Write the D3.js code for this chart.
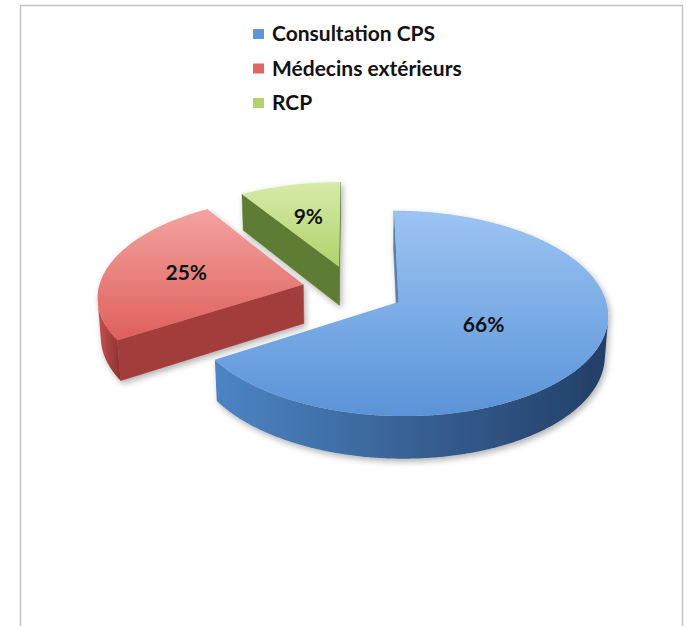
<!DOCTYPE html>
<html>
<head>
<meta charset="utf-8">
<script src="https://cdn.jsdelivr.net/npm/d3@7"></script>
<style>
  body { margin: 0; background: #fff; }
  text { font-family: Lato, "Open Sans", sans-serif; font-weight: bold; }
</style>
</head>
<body>
<div id="chart"></div>
<script>
// data
var categories = ["Consultation CPS", "Médecins extérieurs", "RCP"];
var values = [66, 25, 9];
var labels = ["66%", "25%", "9%"];

// look
var topColors  = [["#9cc4f3", "#5a93d8"], ["#f4a3a0", "#de5f5b"], ["#d6eba9", "#b0d26b"]];
var wallColors = [["#4d84c4", "#223f66"], ["#c8524f", "#8c302e"], ["#6b8b3b", "#4a6627"]];
var faceColors = ["#5a7fa8", "#a23c3a", "#5f7c34"];
var keyColors  = ["#5d95dc", "#e06664", "#b3d36c"];

var W = 686, H = 626;
var svg = d3.select("#chart").append("svg")
    .attr("width", W)
    .attr("height", H);

var defs = svg.append("defs");
defs.append("filter").attr("id", "shadow")
    .attr("x", "-20%").attr("y", "-20%").attr("width", "140%").attr("height", "140%")
    .append("feDropShadow")
    .attr("dx", 2).attr("dy", 3).attr("stdDeviation", 3)
    .attr("flood-color", "#000").attr("flood-opacity", 0.3);

// chart frame
svg.append("rect")
    .attr("x", 20.5).attr("y", 5.5)
    .attr("width", 662).attr("height", H + 20)
    .attr("fill", "#fff")
    .attr("stroke", "#c4c4c4")
    .attr("stroke-width", 1.5);

// simple perspective camera
var phi = 29 * Math.PI / 180, D = 8.1, Fx = 1640, Fy = 1700;
var cx = 353, cy = 329, thick = 0.21, explode = 0.25;
var camY = D * Math.sin(phi), camZ = -D * Math.cos(phi);

function proj(p) {
    var d = D + p[2] * Math.cos(phi) - p[1] * Math.sin(phi);
    return [cx + Fx * p[0] / d, cy - Fy * (p[1] * Math.cos(phi) + p[2] * Math.sin(phi)) / d];
}

var pie = d3.pie().sort(null).value(function(d) { return d; });
var arcs = pie(values).map(function(a, i) {
    var m = (a.startAngle + a.endAngle) / 2;
    a.i = i;
    a.ox = explode * Math.sin(m);
    a.oz = explode * Math.cos(m);
    a.mid = m;
    return a;
});

function pt(a, ang, r, y) {
    return [a.ox + r * Math.sin(ang), y, a.oz + r * Math.cos(ang)];
}

var line = d3.line().curve(d3.curveLinearClosed);
var step = Math.PI / 360;

function angles(s, e) {
    var out = [];
    for (var t = s; t < e; t += step) out.push(t);
    out.push(e);
    return out;
}

// back to front
var order = arcs.slice().sort(function(a, b) { return b.oz - a.oz; });

order.forEach(function(a) {
    var g = svg.append("g").attr("filter", "url(#shadow)");
    var i = a.i;
    var s = a.startAngle, e = a.endAngle;

    // radial faces
    [[s, s - Math.PI / 2], [e, e + Math.PI / 2]].forEach(function(f) {
        var nx = Math.sin(f[1]), nz = Math.cos(f[1]);
        var dot = nx * (-a.ox) + nz * (camZ - a.oz);
        if (dot <= 0) return;
        var poly = [pt(a, f[0], 0, thick), pt(a, f[0], 1, thick),
                    pt(a, f[0], 1, 0), pt(a, f[0], 0, 0)].map(proj);
        g.append("path").attr("d", line(poly))
            .attr("fill", faceColors[i])
            .attr("stroke", faceColors[i]).attr("stroke-width", 0.5);
    });

    // outer wall, visible part only
    var vis = angles(s, e).filter(function(t) {
        var p = pt(a, t, 1, 0);
        return Math.sin(t) * (-p[0]) + Math.cos(t) * (camZ - p[2]) > 0;
    });
    if (vis.length > 1) {
        var topArc = vis.map(function(t) { return proj(pt(a, t, 1, thick)); });
        var botArc = vis.map(function(t) { return proj(pt(a, t, 1, 0)); }).reverse();
        var all = topArc.concat(botArc);
        var xs = d3.extent(all, function(p) { return p[0]; });
        var gid = "wall" + i;
        var lg = defs.append("linearGradient").attr("id", gid)
            .attr("gradientUnits", "userSpaceOnUse")
            .attr("x1", xs[0]).attr("x2", xs[1]).attr("y1", 0).attr("y2", 0);
        lg.append("stop").attr("offset", 0).attr("stop-color", wallColors[i][0]);
        lg.append("stop").attr("offset", 1).attr("stop-color", wallColors[i][1]);
        g.append("path").attr("d", line(all))
            .attr("fill", "url(#" + gid + ")");
    }

    // top face
    var face = [proj(pt(a, 0, 0, thick))].concat(
        angles(s, e).map(function(t) { return proj(pt(a, t, 1, thick)); }));
    var ys = d3.extent(face, function(p) { return p[1]; });
    var tid = "top" + i;
    var tg = defs.append("linearGradient").attr("id", tid)
        .attr("gradientUnits", "userSpaceOnUse")
        .attr("x1", 0).attr("x2", 0).attr("y1", ys[0]).attr("y2", ys[1]);
    tg.append("stop").attr("offset", 0).attr("stop-color", topColors[i][0]);
    tg.append("stop").attr("offset", 1).attr("stop-color", topColors[i][1]);
    g.append("path").attr("d", line(face))
        .attr("fill", "url(#" + tid + ")");
});

// data labels
arcs.forEach(function(a) {
    var r = a.value > 50 ? 0.45 : 0.6;
    var p = proj(pt(a, a.mid, r, thick));
    svg.append("text")
        .attr("x", p[0]).attr("y", p[1])
        .attr("text-anchor", "middle")
        .attr("dy", "0.36em")
        .attr("font-size", 21)
        .attr("fill", "#111")
        .text(labels[a.i]);
});

// legend
var legend = svg.append("g").selectAll("g")
    .data(categories)
    .enter().append("g")
    .attr("transform", function(d, i) { return "translate(253," + (41 + i * 34.5) + ")"; });
legend.append("rect")
    .attr("x", 0).attr("y", -12)
    .attr("width", 11).attr("height", 10)
    .attr("fill", function(d, i) { return keyColors[i]; });
legend.append("text")
    .attr("x", 19).attr("y", 0)
    .attr("font-size", 21)
    .attr("fill", "#111")
    .text(function(d) { return d; });
</script>
</body>
</html>
